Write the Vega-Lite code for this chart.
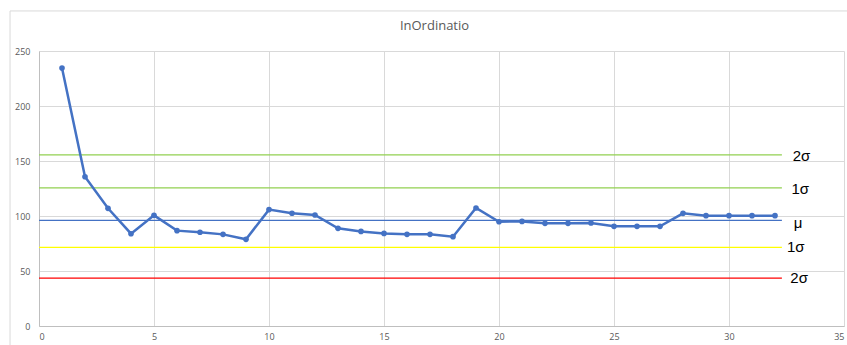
{
  "$schema": "https://vega.github.io/schema/vega-lite/v6.json",
  "width": 805,
  "height": 275,
  "autosize": "none",
  "padding": {"left": 39, "top": 51, "right": 3, "bottom": 19},
  "background": "white",
  "config": {
    "font": "Open Sans",
    "view": {"stroke": null},
    "axis": {"labelFont": "Open Sans", "labelColor": "#595959", "labelFontSize": 9, "gridColor": "#d9d9d9", "gridWidth": 1, "domainColor": "#bfbfbf", "ticks": false, "title": null}
  },
  "title": {"text": "InOrdinatio", "anchor": "middle", "frame": "group", "dx": -7, "offset": -23, "fontSize": 13, "font": "Open Sans", "fontWeight": "normal", "color": "#595959"},
  "datasets": {
    "series": [
      {"x": 1, "y": 234.5}, {"x": 2, "y": 135.7}, {"x": 3, "y": 107}, {"x": 4, "y": 83.9},
      {"x": 5, "y": 100.6}, {"x": 6, "y": 86.7}, {"x": 7, "y": 85.2}, {"x": 8, "y": 83.3},
      {"x": 9, "y": 78.8}, {"x": 10, "y": 105.8}, {"x": 11, "y": 102.5}, {"x": 12, "y": 100.9},
      {"x": 13, "y": 88.8}, {"x": 14, "y": 86}, {"x": 15, "y": 84.2}, {"x": 16, "y": 83.3},
      {"x": 17, "y": 83.3}, {"x": 18, "y": 81.2}, {"x": 19, "y": 107.3}, {"x": 20, "y": 94.8},
      {"x": 21, "y": 95.1}, {"x": 22, "y": 93.3}, {"x": 23, "y": 93.3}, {"x": 24, "y": 93.6},
      {"x": 25, "y": 90.6}, {"x": 26, "y": 90.6}, {"x": 27, "y": 90.6}, {"x": 28, "y": 102.4},
      {"x": 29, "y": 100.3}, {"x": 30, "y": 100.3}, {"x": 31, "y": 100.3}, {"x": 32, "y": 100.3}
    ],
    "limits": [
      {"name": "+2σ", "x0": 0, "x1": 32.3, "y": 155.5, "color": "#92D050"},
      {"name": "+1σ", "x0": 0, "x1": 32.3, "y": 125.5, "color": "#92D050"},
      {"name": "μ", "x0": 0, "x1": 32.3, "y": 96.1, "color": "#4472C4"},
      {"name": "-1σ", "x0": 0, "x1": 32.3, "y": 71.5, "color": "#FFFF00"},
      {"name": "-2σ", "x0": 0, "x1": 32.3, "y": 43.5, "color": "#FF0000"}
    ],
    "labels": [
      {"label": "2σ", "x": 33.15, "y": 154.8},
      {"label": "1σ", "x": 33.1, "y": 124.5},
      {"label": "μ", "x": 33.0, "y": 93.6},
      {"label": "1σ", "x": 32.9, "y": 71.8},
      {"label": "2σ", "x": 33.05, "y": 43.9}
    ],
    "frame": [
      {"x": -1.26, "x2": 40, "y": 286.4, "y2": 286.4},
      {"x": -1.26, "x2": -1.26, "y": 286.4, "y2": -40}
    ]
  },
  "layer": [
    {
      "data": {"name": "frame"},
      "mark": {"type": "rule", "clip": false, "color": "#d9d9d9", "strokeWidth": 1},
      "encoding": {
        "x": {"field": "x", "type": "quantitative", "scale": {"domain": [0, 35], "nice": false, "zero": false}, "axis": {"values": [0, 5, 10, 15, 20, 25, 30, 35], "labelPadding": 6, "grid": true}},
        "x2": {"field": "x2"},
        "y": {"field": "y", "type": "quantitative", "scale": {"domain": [0, 250], "nice": false}, "axis": {"values": [0, 50, 100, 150, 200, 250], "labelPadding": 9, "grid": true}},
        "y2": {"field": "y2"}
      }
    },
    {
      "data": {"name": "limits"},
      "mark": {"type": "rule", "strokeWidth": 1.2},
      "encoding": {
        "x": {"field": "x0", "type": "quantitative"},
        "x2": {"field": "x1"},
        "y": {"field": "y", "type": "quantitative"},
        "color": {"field": "color", "type": "nominal", "scale": null, "legend": null}
      }
    },
    {
      "data": {"name": "series"},
      "mark": {"type": "line", "color": "#4472C4", "strokeWidth": 2.5, "point": {"filled": true, "size": 32, "color": "#4472C4"}},
      "encoding": {
        "x": {"field": "x", "type": "quantitative"},
        "y": {"field": "y", "type": "quantitative"}
      }
    },
    {
      "data": {"name": "labels"},
      "mark": {"type": "text", "clip": false, "fontSize": 15, "font": "Liberation Sans", "color": "#000000", "align": "center", "baseline": "middle"},
      "encoding": {
        "x": {"field": "x", "type": "quantitative"},
        "y": {"field": "y", "type": "quantitative"},
        "text": {"field": "label"}
      }
    }
  ]
}
